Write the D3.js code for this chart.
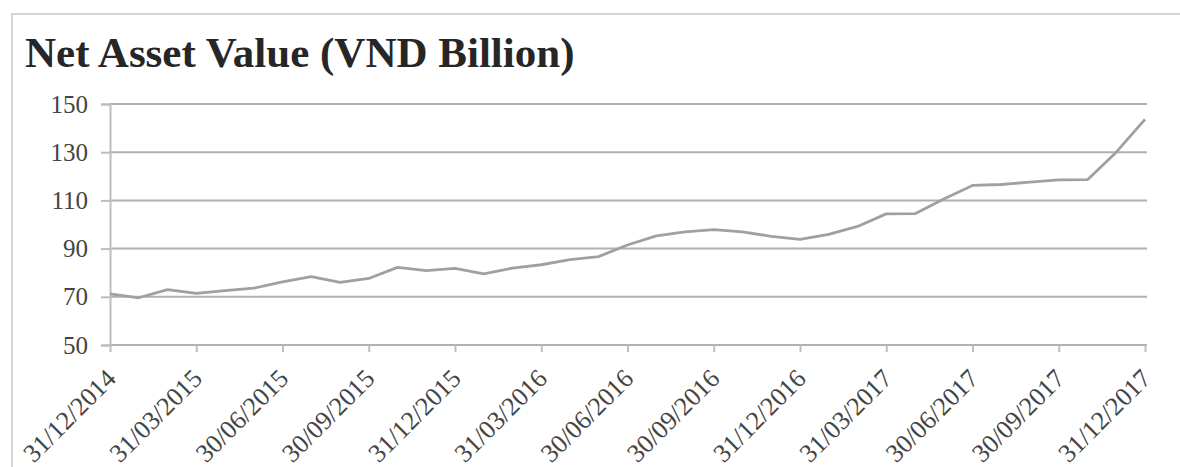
<!DOCTYPE html>
<html>
<head>
<meta charset="utf-8">
<script src="https://cdn.jsdelivr.net/npm/d3@7"></script>
<style>
  body { margin: 0; background: #fff; }
  svg { display: block; }
</style>
</head>
<body>
<script>
// monthly NAV, 31/12/2014 .. 31/12/2017 (VND billion)
var months = d3.range(37)
var nav = [71.2, 69.6, 73.0, 71.4, 72.6, 73.6, 76.2, 78.4, 76.0, 77.6,
           82.2, 80.9, 81.8, 79.5, 81.9, 83.3, 85.4, 86.7, 91.5, 95.3,
           96.9, 97.9, 96.9, 95.1, 93.8, 95.9, 99.2, 104.4, 104.5, 110.6,
           116.2, 116.6, 117.6, 118.5, 118.6, 130.0, 143.6]
var quarterLabels = ["31/12/2014", "31/03/2015", "30/06/2015", "30/09/2015", "31/12/2015",
                     "31/03/2016", "30/06/2016", "30/09/2016", "31/12/2016", "31/03/2017",
                     "30/06/2017", "30/09/2017", "31/12/2017"]
var yTicks = [50, 70, 90, 110, 130, 150]

var width = 1180, height = 467
var margin = {top: 104, right: 35, bottom: 122, left: 110}
var serif = "'Liberation Serif', 'Times New Roman', serif"

var svg = d3.select("body").append("svg")
    .attr("width", width)
    .attr("height", height)
    .attr("font-family", serif)

// outer frame (only top + left visible in the shot)
svg.append("path")
    .attr("d", `M12,${height} V14 H${width}`)
    .attr("fill", "none")
    .attr("stroke", "#d4d4d4")
    .attr("stroke-width", 2)

svg.append("text")
    .attr("x", 25)
    .attr("y", 67)
    .attr("font-size", 43)
    .attr("font-weight", "bold")
    .attr("fill", "#262626")
    .text("Net Asset Value (VND Billion)")

x = d3.scaleLinear()
    .domain([0, 36])
    .range([margin.left, width - margin.right])
y = d3.scaleLinear()
    .domain([50, 150])
    .range([height - margin.bottom, margin.top])

// gridlines
svg.append("g")
    .selectAll("line")
    .data(yTicks)
    .join("line")
        .attr("x1", margin.left)
        .attr("x2", x(36) + 2)
        .attr("y1", d => y(d))
        .attr("y2", d => y(d))
        .attr("stroke", "#b0b0b0")
        .attr("stroke-width", 2)

yAxis = g => g
    .attr("transform", `translate(${margin.left},0)`)
    .call(d3.axisLeft(y).tickValues(yTicks).tickSize(9).tickPadding(13))
    .attr("font-family", serif)
    .call(g => g.selectAll("line, .domain").attr("stroke", "#bdbdbd").attr("stroke-width", 2))
    .call(g => g.selectAll("text").attr("font-size", 25).attr("fill", "#444"))

xAxis = g => g
    .attr("transform", `translate(0,${y(50)})`)
    .call(d3.axisBottom(x).tickValues(d3.range(0, 37, 3)).tickSize(7)
        .tickFormat((d, i) => quarterLabels[i]))
    .attr("font-family", serif)
    .call(g => g.select(".domain").remove())
    .call(g => g.selectAll("line").attr("stroke", "#bdbdbd").attr("stroke-width", 2))
    .call(g => g.selectAll("text")
        .attr("font-size", 26)
        .attr("fill", "#444")
        .attr("text-anchor", "end")
        .attr("x", 0)
        .attr("y", 0)
        .attr("dy", 0)
        .attr("transform", "translate(7,35) rotate(-45)"))

svg.append("g").call(yAxis)
svg.append("g").call(xAxis)

var line = d3.line()
    .x((d, i) => x(months[i]))
    .y(d => y(d))

svg.append("path")
    .datum(nav)
    .attr("d", line)
    .attr("fill", "none")
    .attr("stroke", "#a0a0a0")
    .attr("stroke-width", 2.8)
    .attr("stroke-linejoin", "round")
</script>
</body>
</html>
